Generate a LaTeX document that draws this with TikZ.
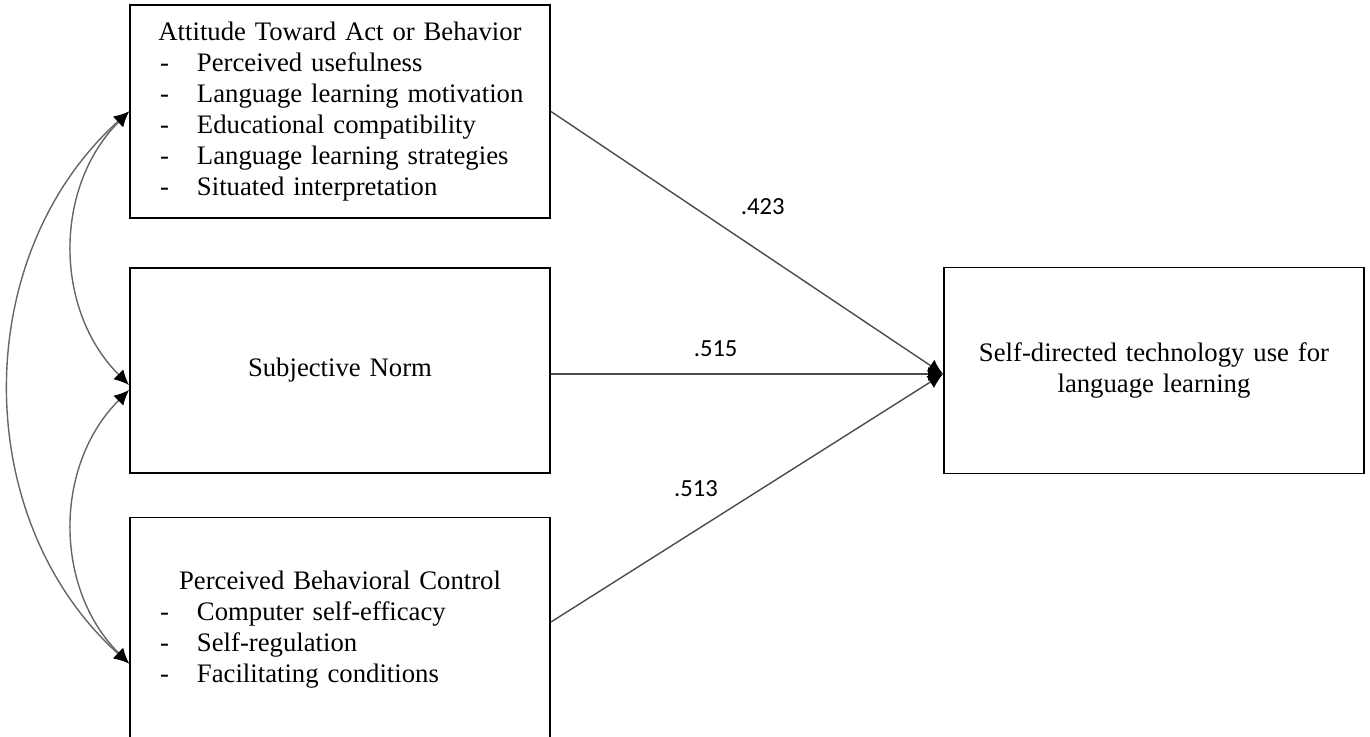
\documentclass[tikz,border=0pt]{standalone}
\usepackage{xcolor}
\usepackage{tikz}
\usetikzlibrary{arrows.meta}
\usepackage{fontspec}
\setmainfont{Liberation Serif}
\newfontfamily\lblfont{Carlito}
\newcommand{\itm}[1]{\mbox{\makebox[0.74cm][l]{-}#1}}
\newcommand{\ttl}[1]{\makebox[7.2cm][c]{#1}}

\begin{document}
\begin{tikzpicture}[node distance=5.18cm]
\tikzstyle{construct} = [rectangle, draw, line width=1.1pt, text width=7.2cm, inner xsep=0.6cm, align=left, font=\fontsize{15.2pt}{17.6pt}\selectfont]
\tikzstyle{arrow} = [draw=black!70, line width=0.8pt, ->, >={Latex[length=3mm,width=2.8mm,color=black]}]
\tikzstyle{cov} = [draw=black!60, line width=0.8pt, <->, >={Latex[length=3mm,width=2.8mm,color=black]}]
\tikzstyle{coef} = [font=\lblfont\fontsize{14pt}{16pt}\selectfont]

\path[use as bounding box, clip] (0,0) rectangle (27.4,-14.72);

\node (att) [construct, minimum height=4.26cm] at (6.8,-2.23) {\ttl{Attitude Toward Act or Behavior}\\
\itm{Perceived usefulness}\\
\itm{Language learning motivation}\\
\itm{Educational compatibility}\\
\itm{Language learning strategies}\\
\itm{Situated interpretation}};
\node (norm) [construct, minimum height=4.1cm, below of=att] {\ttl{Subjective Norm}};
\node (pbc) [construct, minimum height=4.48cm, below of=norm] {\ttl{Perceived Behavioral Control}\\
\itm{Computer self-efficacy}\\
\itm{Self-regulation}\\
\itm{Facilitating conditions}};
\node (use) [construct, minimum height=4.12cm, align=center, right of=norm, xshift=11.1cm] {Self-directed technology use for\\ language learning};

\coordinate (usein) at ([yshift=-0.07cm]use.west);

\draw [arrow] (att.east) -- node[coef, pos=0.54, yshift=0.94cm] {.423} (usein);
\draw [arrow] ([yshift=-0.07cm]norm.east) -- node[coef, pos=0.42, yshift=0.5cm] {.515} (usein);
\draw [arrow] ([yshift=0.15cm]pbc.east) -- node[coef, pos=0.37, yshift=0.84cm] {.513} (usein);

\draw [cov] (att.west) to[bend right=45] ([yshift=-0.29cm]norm.west);
\draw [cov] ([yshift=-0.39cm]norm.west) to[bend right=45] ([yshift=-0.68cm]pbc.west);
\draw [cov] (att.west) to[bend right=48] ([yshift=-0.68cm]pbc.west);

\end{tikzpicture}
\end{document}
